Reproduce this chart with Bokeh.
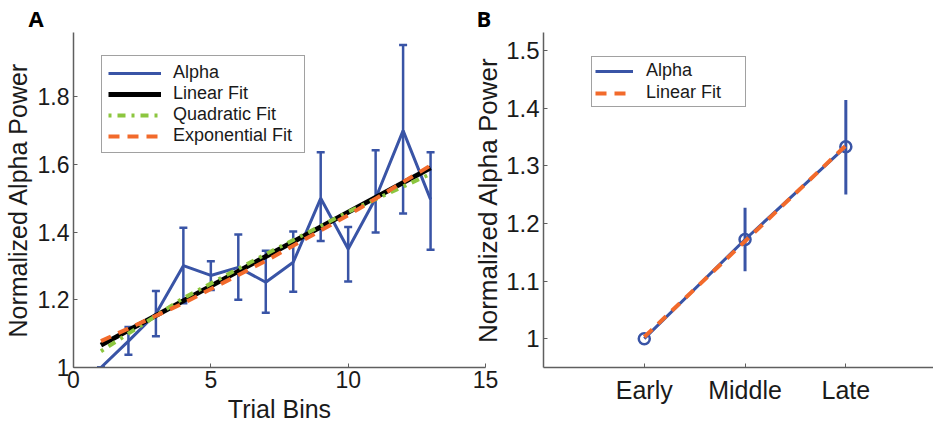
from bokeh.plotting import figure
from bokeh.models import (Legend, LegendItem, FixedTicker, CustomJSTickFormatter,
                          Range1d, Whisker, TeeHead, ColumnDataSource)
from bokeh.layouts import row
from bokeh.embed import file_html
from bokeh.resources import INLINE

# ---------------- data ----------------
trial_bins = [1, 2, 3, 4, 5, 6, 7, 8, 9, 10, 11, 12, 13]
alpha_mean = [1.0, 1.078, 1.159, 1.301, 1.272, 1.296, 1.252, 1.311, 1.50, 1.35, 1.50, 1.70, 1.497]
alpha_upper = [1.0, 1.12, 1.226, 1.413, 1.314, 1.393, 1.345, 1.402, 1.636, 1.415, 1.642, 1.953, 1.636]
alpha_lower = [1.0, 1.038, 1.092, 1.19, 1.229, 1.20, 1.162, 1.224, 1.374, 1.254, 1.399, 1.455, 1.348]

linear_x = [1, 13]
linear_fit = [1.066, 1.590]
curve_x = [1, 4, 7, 10, 13]
quadratic_fit = [1.048, 1.205, 1.335, 1.460, 1.572]
exponential_fit = [1.078, 1.190, 1.315, 1.450, 1.597]

a_xticks = [0, 5, 10, 15]
a_yticks = [1, 1.2, 1.4, 1.6, 1.8]

stages = ["Early", "Middle", "Late"]
stage_pos = [1, 2, 3]
stage_mean = [1.0, 1.172, 1.333]
stage_upper = [1.0, 1.227, 1.414]
stage_lower = [1.0, 1.117, 1.25]
stage_fit = [1.003, 1.169, 1.335]
b_yticks = [1, 1.1, 1.2, 1.3, 1.4, 1.5]

# ---------------- style ----------------
FONT = "Liberation Sans"
BLUE = "#3954A6"
GREEN = "#8CC63F"
ORANGE = "#F26A2B"
AXIS = "#5f5f5f"
TEXT = "#1a1a1a"


def style_axes(p, tick_size, label_size):
    p.grid.visible = False
    p.outline_line_color = None
    p.background_fill_color = None
    p.border_fill_color = None
    for ax in p.axis:
        ax.axis_line_color = AXIS
        ax.axis_line_width = 1.5
        ax.major_tick_in = 4
        ax.major_tick_out = 0
        ax.minor_tick_in = 0
        ax.minor_tick_out = 0
        ax.major_tick_line_color = AXIS
        ax.major_tick_line_width = 1
        ax.major_label_text_font = FONT
        ax.major_label_text_font_size = tick_size
        ax.major_label_text_color = TEXT
        ax.major_label_standoff = 4
        ax.axis_label_text_font = FONT
        ax.axis_label_text_font_size = label_size
        ax.axis_label_text_font_style = "normal"
        ax.axis_label_text_color = TEXT
        ax.axis_label_standoff = 3


def style_title(p, letter, offset):
    p.title.text = letter
    p.title.align = "left"
    p.title.offset = offset
    p.title.text_font = "Open Sans"
    p.title.text_font_style = "bold"
    p.title.text_font_size = "22px"
    p.title.text_color = "black"
    p.title.standoff = -1


def style_legend(lg, padding, spacing, glyph_w, label_w, standoff):
    lg.label_text_font = FONT
    lg.label_text_font_size = "18px"
    lg.label_text_color = TEXT
    lg.border_line_color = "#444444"
    lg.border_line_width = 1
    lg.background_fill_color = "white"
    lg.background_fill_alpha = 1
    lg.padding = padding
    lg.spacing = spacing
    lg.glyph_width = glyph_w
    lg.glyph_height = 18
    lg.label_height = 18
    lg.label_width = label_w
    lg.label_standoff = standoff
    lg.margin = 0


num_fmt = CustomJSTickFormatter(code="return String(tick)")

# ---------------- panel A ----------------
pA = figure(width=500, height=425, x_range=Range1d(0, 15), y_range=Range1d(1, 1.99),
            output_backend="svg", toolbar_location=None,
            min_border_left=71, min_border_right=15, min_border_top=32, min_border_bottom=56)
style_axes(pA, "23px", "25px")
style_title(pA, "A", -45)
pA.xaxis.ticker = FixedTicker(ticks=a_xticks)
pA.yaxis.ticker = FixedTicker(ticks=a_yticks)
pA.yaxis.formatter = num_fmt
pA.xaxis.axis_label = "Trial Bins"
pA.yaxis.axis_label = "Normalized Alpha Power"
pA.xaxis.major_label_standoff = 3
pA.xaxis.axis_label_standoff = 4

srcA = ColumnDataSource(dict(x=trial_bins, y=alpha_mean, up=alpha_upper, lo=alpha_lower))
wA = Whisker(base="x", upper="up", lower="lo", source=srcA, dimension="height",
             line_color=BLUE, line_width=2.5, level="underlay",
             upper_head=TeeHead(size=8, line_color=BLUE, line_width=2.5),
             lower_head=TeeHead(size=8, line_color=BLUE, line_width=2.5))
pA.add_layout(wA)
rA_alpha = pA.line("x", "y", source=srcA, line_color=BLUE, line_width=3)
rA_lin = pA.line(linear_x, linear_fit, line_color="black", line_width=5)
rA_quad = pA.line(curve_x, quadratic_fit, line_color=GREEN, line_width=4, line_dash="3 6 8 6")
rA_exp = pA.line(curve_x, exponential_fit, line_color=ORANGE, line_width=4, line_dash="11 8")

legA = Legend(items=[LegendItem(label="Alpha", renderers=[rA_alpha]),
                     LegendItem(label="Linear Fit", renderers=[rA_lin]),
                     LegendItem(label="Quadratic Fit", renderers=[rA_quad]),
                     LegendItem(label="Exponential Fit", renderers=[rA_exp])],
              location=(28, 214))
style_legend(legA, padding=6, spacing=0, glyph_w=53, label_w=125, standoff=12)
pA.add_layout(legA)

# ---------------- panel B ----------------
pB = figure(width=463, height=425, x_range=Range1d(0, 3.87), y_range=Range1d(0.95, 1.531),
            output_backend="svg", toolbar_location=None,
            min_border_left=70, min_border_right=0, min_border_top=32, min_border_bottom=56,
            margin=(0, 0, 0, -30))
style_axes(pB, "25px", "26px")
style_title(pB, "B", -67)
pB.xaxis.ticker = FixedTicker(ticks=stage_pos)
pB.xaxis.major_label_overrides = {p: s for p, s in zip(stage_pos, stages)}
pB.xaxis.major_label_standoff = 8
pB.yaxis.ticker = FixedTicker(ticks=b_yticks)
pB.yaxis.formatter = num_fmt
pB.yaxis.major_label_text_font_size = "24px"
pB.yaxis.axis_label = "Normalized Alpha Power"
pB.yaxis.axis_label_standoff = 0

srcB = ColumnDataSource(dict(x=stage_pos, y=stage_mean, up=stage_upper, lo=stage_lower, fit=stage_fit))
wB = Whisker(base="x", upper="up", lower="lo", source=srcB, dimension="height",
             line_color=BLUE, line_width=3, upper_head=None, lower_head=None, level="underlay")
pB.add_layout(wB)
rB_alpha = pB.line("x", "y", source=srcB, line_color=BLUE, line_width=3)
pB.scatter("x", "y", source=srcB, marker="circle", size=11, fill_color=None,
           line_color=BLUE, line_width=2.5)
rB_fit = pB.line("x", "fit", source=srcB, line_color=ORANGE, line_width=4, line_dash="11 8")

legB = Legend(items=[LegendItem(label="Alpha", renderers=[rB_alpha]),
                     LegendItem(label="Linear Fit", renderers=[rB_fit])],
              location=(48, 260))
style_legend(legB, padding=3, spacing=1, glyph_w=38, label_w=96, standoff=13)
pB.add_layout(legB)

layout = row(pA, pB)
open("out.html", "w").write(file_html(layout, INLINE))
